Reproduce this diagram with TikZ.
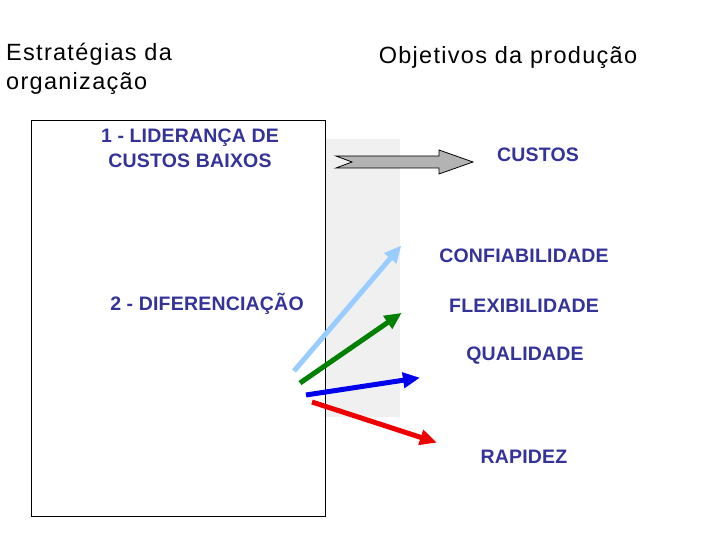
\documentclass[tikz,border=0pt]{standalone}
\usepackage{fontspec}
\setmainfont{Liberation Sans}
\newfontfamily\headfont[LetterSpace=5.5]{Liberation Sans}
\newfontfamily\bluefont[LetterSpace=1]{Liberation Sans Bold}
\usetikzlibrary{arrows.meta}
\definecolor{txtblue}{HTML}{333399}
\definecolor{lightarr}{HTML}{99CCFF}
\definecolor{greenarr}{HTML}{008000}
\definecolor{bluearr}{HTML}{0000EE}
\definecolor{redarr}{HTML}{EE0000}
\definecolor{panelgray}{HTML}{F0F0F0}
\definecolor{arrgray}{HTML}{B3B3B3}
\tikzset{
  heading/.style={font=\headfont\fontsize{23.5}{29}\selectfont, text=black, align=left, inner sep=0pt},
  bluetxt/.style={font=\bluefont\fontsize{19.5}{25}\selectfont, text=txtblue, align=center, inner sep=0pt},
  fatarrow/.style={line width=5pt, -{Triangle[length=17pt,width=15pt]}, shorten >=-2pt},
}
\begin{document}
\begin{tikzpicture}[x=1pt,y=-1pt]
\useasboundingbox (0,0) rectangle (720,540);
% gray panel and box
\fill[panelgray] (325,139) rectangle (400,417);
\draw[line width=1pt] (31,121) rectangle (325,516);
% headings
\node[heading, anchor=west] (h1) at (6,69) {Estratégias da\\organização};
\node[heading] (h2) at (508,57) {Objetivos da produção};
% strategies
\node[bluetxt] (s1) at (190,148) {1 - LIDERANÇA DE\\CUSTOS BAIXOS};
\node[bluetxt] (s2) at (207,304) {2 - DIFERENCIAÇÃO};
% objectives
\node[bluetxt] (o1) at (538,155) {CUSTOS};
\node[bluetxt] (o2) at (524,256) {CONFIABILIDADE};
\node[bluetxt] (o3) at (524,306) {FLEXIBILIDADE};
\node[bluetxt] (o4) at (525,356) {QUALIDADE};
\node[bluetxt] (o5) at (524,457) {RAPIDEZ};
% gray block arrow
\draw[fill=arrgray, line width=0.8pt, line join=miter]
  (336,156) -- (439,156) -- (439,150) -- (473,162) -- (439,174) -- (439,168)
  -- (336,168) -- (352,162) -- cycle;
% coloured arrows
\coordinate (a1) at (294,371); \coordinate (b1) at (400,247);
\coordinate (a2) at (300,383); \coordinate (b2) at (400,314);
\coordinate (a3) at (306,395); \coordinate (b3) at (418,378);
\coordinate (a4) at (312,402); \coordinate (b4) at (435,442);
\draw[fatarrow, lightarr] (a1) -- (b1);
\draw[fatarrow, greenarr] (a2) -- (b2);
\draw[fatarrow, bluearr] (a3) -- (b3);
\draw[fatarrow, redarr] (a4) -- (b4);
\end{tikzpicture}
\end{document}
